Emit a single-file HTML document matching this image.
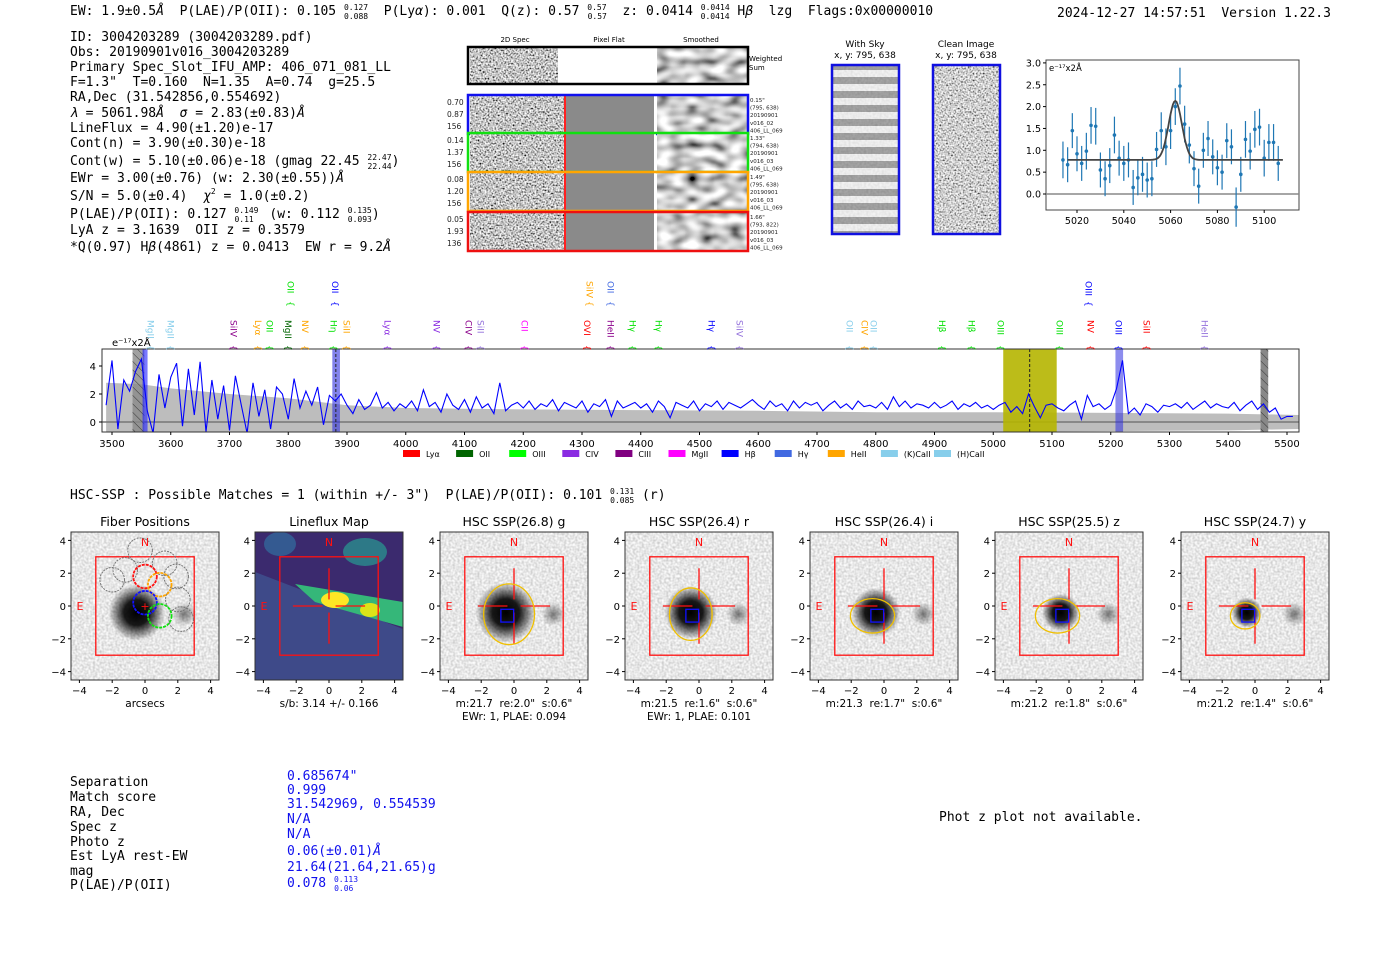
<!DOCTYPE html>
<html><head><meta charset="utf-8">
<style>
html,body{margin:0;padding:0;background:#fff;}
svg{display:block;}
text{white-space:pre;}
.m{font-family:"DejaVu Sans Mono","Liberation Mono",monospace;font-size:13px;fill:#000;}
.s{font-family:"DejaVu Sans","Liberation Sans",sans-serif;}
.sup{font-size:8px;}
</style></head>
<body>
<svg id="root" width="1400" height="953" viewBox="0 0 1400 953" xmlns="http://www.w3.org/2000/svg" xml:space="preserve">
<defs>
  <filter id="nLight" x="0" y="0" width="1" height="1">
    <feTurbulence type="fractalNoise" baseFrequency="0.45" numOctaves="1" seed="3"/>
    <feColorMatrix type="matrix" values="0.7 0 0 0 0.45  0.7 0 0 0 0.45  0.7 0 0 0 0.45  0 0 0 0 1"/>
  </filter>
  <filter id="nDark" x="0" y="0" width="1" height="1">
    <feTurbulence type="fractalNoise" baseFrequency="0.6" numOctaves="1" seed="7"/>
    <feColorMatrix type="matrix" values="2.2 0 0 0 -0.55  2.2 0 0 0 -0.55  2.2 0 0 0 -0.55  0 0 0 0 1"/>
  </filter>
  <filter id="nSmooth" x="0" y="0" width="1" height="1">
    <feTurbulence type="fractalNoise" baseFrequency="0.07 0.12" numOctaves="1" seed="11"/>
    <feColorMatrix type="matrix" values="2 0 0 0 -0.4  2 0 0 0 -0.4  2 0 0 0 -0.4  0 0 0 0 1"/>
  </filter>
  <radialGradient id="blob"><stop offset="0" stop-color="#000" stop-opacity="1"/><stop offset="0.45" stop-color="#000" stop-opacity="0.9"/><stop offset="1" stop-color="#000" stop-opacity="0"/></radialGradient>
  <radialGradient id="blob2"><stop offset="0" stop-color="#000" stop-opacity="0.5"/><stop offset="1" stop-color="#000" stop-opacity="0"/></radialGradient>
  <pattern id="hatch" width="6" height="6" patternUnits="userSpaceOnUse" patternTransform="rotate(-45)"><line x1="0" y1="0" x2="0" y2="6" stroke="#333" stroke-width="1"/></pattern>
  <pattern id="sky" width="68" height="14" patternUnits="userSpaceOnUse"><rect width="68" height="7" fill="#eee"/><rect y="7" width="68" height="7" fill="#777"/></pattern>
  <clipPath id="specClip"><rect x="102" y="349" width="1197" height="83"/></clipPath>
</defs>

<text class="m" x="70" y="15">EW: 1.9±0.5<tspan font-style="italic">Å</tspan>  P(LAE)/P(OII): 0.105 <tspan class="sup" dy="-5">0.127</tspan><tspan class="sup" dx="-24" dy="9">0.088</tspan><tspan dy="-4">  P(Ly</tspan><tspan font-style="italic">α</tspan>): 0.001  Q(z): 0.57 <tspan class="sup" dy="-5">0.57</tspan><tspan class="sup" dx="-19" dy="9">0.57</tspan><tspan dy="-4">  z: 0.0414 </tspan><tspan class="sup" dy="-5">0.0414</tspan><tspan class="sup" dx="-29" dy="9">0.0414</tspan><tspan dy="-4"> H</tspan><tspan font-style="italic">β</tspan>  lzg  Flags:0x00000010</text>
<text class="m" x="1057" y="17">2024-12-27 14:57:51  Version 1.22.3</text>

<g>
<text class="m" x="70" y="41">ID: 3004203289 (3004203289.pdf)</text>
<text class="m" x="70" y="56">Obs: 20190901v016_3004203289</text>
<text class="m" x="70" y="71">Primary Spec_Slot_IFU_AMP: 406_071_081_LL</text>
<text class="m" x="70" y="86">F=1.3"  T=0.160  N=1.35  A=0.74  g=25.5</text>
<text class="m" x="70" y="101">RA,Dec (31.542856,0.554692)</text>
<text class="m" x="70" y="117"><tspan font-style="italic">λ</tspan> = 5061.98<tspan font-style="italic">Å</tspan>  <tspan font-style="italic">σ</tspan> = 2.83(±0.83)<tspan font-style="italic">Å</tspan></text>
<text class="m" x="70" y="132">LineFlux = 4.90(±1.20)e-17</text>
<text class="m" x="70" y="147">Cont(n) = 3.90(±0.30)e-18</text>
<text class="m" x="70" y="165">Cont(w) = 5.10(±0.06)e-18 (gmag 22.45 <tspan class="sup" dy="-5">22.47</tspan><tspan class="sup" dx="-24" dy="9">22.44</tspan><tspan dy="-4">)</tspan></text>
<text class="m" x="70" y="182">EWr = 3.00(±0.76) (w: 2.30(±0.55))<tspan font-style="italic">Å</tspan></text>
<text class="m" x="70" y="200">S/N = 5.0(±0.4)  <tspan font-style="italic">χ</tspan><tspan class="sup" dy="-6">2</tspan><tspan dy="6"> = 1.0(±0.2)</tspan></text>
<text class="m" x="70" y="218">P(LAE)/P(OII): 0.127 <tspan class="sup" dy="-5">0.149</tspan><tspan class="sup" dx="-24" dy="9">0.11</tspan><tspan dy="-4">  (w: 0.112 </tspan><tspan class="sup" dy="-5">0.135</tspan><tspan class="sup" dx="-24" dy="9">0.093</tspan><tspan dy="-4">)</tspan></text>
<text class="m" x="70" y="234">LyA z = 3.1639  OII z = 0.3579</text>
<text class="m" x="70" y="251">*Q(0.97) H<tspan font-style="italic">β</tspan>(4861) z = 0.0413  EW r = 9.2<tspan font-style="italic">Å</tspan></text>
</g>

<g class="s">
  <text x="515" y="42" font-size="7" text-anchor="middle">2D Spec</text>
  <text x="609" y="42" font-size="7" text-anchor="middle">Pixel Flat</text>
  <text x="701" y="42" font-size="7" text-anchor="middle">Smoothed</text>
  <rect x="470" y="48" width="88" height="36" filter="url(#nDark)"/>
  <rect x="558" y="48" width="99" height="36" fill="#fff"/>
  <rect x="657" y="48" width="90" height="36" filter="url(#nSmooth)"/>
  <rect x="468" y="47" width="280" height="37" fill="none" stroke="#000" stroke-width="2.5"/>
  <text x="749" y="61" font-size="7">Weighted</text><text x="749" y="70" font-size="7">Sum</text>
  <g id="rows2d"></g>
</g>

<g class="s">
  <text x="865" y="47" font-size="9" text-anchor="middle">With Sky</text>
  <text x="865" y="58" font-size="9" text-anchor="middle">x, y: 795, 638</text>
  <rect x="832" y="65" width="67" height="169" fill="url(#sky)"/>
  <rect x="832" y="65" width="67" height="169" filter="url(#nLight)" opacity="0.35"/>
  <rect x="832" y="65" width="67" height="169" fill="none" stroke="#1010e0" stroke-width="2.5"/>
  <text x="966" y="47" font-size="9" text-anchor="middle">Clean Image</text>
  <text x="966" y="58" font-size="9" text-anchor="middle">x, y: 795, 638</text>
  <rect x="933" y="65" width="67" height="169" filter="url(#nDark)" opacity="0.8"/>
  <rect x="933" y="65" width="67" height="169" fill="none" stroke="#1010e0" stroke-width="2.5"/>
</g>

<g id="fitplot" class="s"></g>
<g id="spectrum" class="s"></g>

<text class="m" x="70" y="499">HSC-SSP : Possible Matches = 1 (within +/- 3")  P(LAE)/P(OII): 0.101 <tspan class="sup" dy="-5">0.131</tspan><tspan class="sup" dx="-24" dy="9">0.085</tspan><tspan dy="-4"> (r)</tspan></text>

<g id="cutouts" class="s"></g>

<g>
<text class="m" x="70" y="786">Separation</text>
<text class="m" x="70" y="801">Match score</text>
<text class="m" x="70" y="816">RA, Dec</text>
<text class="m" x="70" y="831">Spec z</text>
<text class="m" x="70" y="846">Photo z</text>
<text class="m" x="70" y="860">Est LyA rest-EW</text>
<text class="m" x="70" y="875">mag</text>
<text class="m" x="70" y="889">P(LAE)/P(OII)</text>
<text class="m" x="287" y="780" style="fill:#1010ee">0.685674"</text>
<text class="m" x="287" y="794" style="fill:#1010ee">0.999</text>
<text class="m" x="287" y="808" style="fill:#1010ee">31.542969, 0.554539</text>
<text class="m" x="287" y="823" style="fill:#1010ee">N/A</text>
<text class="m" x="287" y="838" style="fill:#1010ee">N/A</text>
<text class="m" x="287" y="855" style="fill:#1010ee">0.06(±0.01)<tspan font-style="italic">Å</tspan></text>
<text class="m" x="287" y="871" style="fill:#1010ee">21.64(21.64,21.65)g</text>
<text class="m" x="287" y="887" style="fill:#1010ee">0.078 <tspan class="sup" dy="-5">0.113</tspan><tspan class="sup" dx="-24" dy="9">0.06</tspan></text>
</g>
<text class="m" x="939" y="821">Phot z plot not available.</text>
</svg>

<script>
const specStart = 3490;
const specStep = 10;
const specFlux = [1.2,4.4,-0.5,3.0,2.2,3.6,4.5,0.8,-0.8,3.4,1.0,
3.2,4.2,-0.3,3.8,0.5,4.3,-0.7,3.0,0.2,2.6,
-0.6,3.3,1.2,-0.8,2.8,0.4,2.3,-0.5,2.5,2.0,
0.2,3.1,1.0,2.2,1.2,2.5,-0.2,1.9,1.5,2.0,
1.2,0.6,1.6,0.9,1.2,2.1,1.0,1.4,0.8,1.3,
1.0,1.5,0.8,2.3,1.1,1.4,0.7,2.0,1.2,0.9,
1.6,0.7,1.8,1.0,1.3,0.6,2.8,0.8,1.2,1.4,
1.0,1.5,0.9,1.3,1.1,1.6,0.8,1.4,1.2,1.0,
1.5,0.7,1.3,1.1,1.6,0.4,1.5,1.0,1.2,1.4,
1.0,1.3,0.7,1.5,1.1,0.3,1.4,1.2,1.0,1.5,
0.8,1.3,1.1,1.5,0.9,1.4,1.2,1.0,1.3,1.6,
1.2,0.9,1.5,1.1,1.3,0.8,1.5,1.0,1.4,1.2,
1.4,0.8,1.2,1.5,1.0,1.3,0.9,1.5,1.1,1.2,
1.0,1.4,0.9,1.8,1.1,1.5,1.0,1.3,1.2,1.0,
1.4,1.0,1.2,1.5,0.9,1.3,1.1,1.4,1.0,1.2,
0.9,1.2,1.4,0.7,1.1,0.6,2.0,1.1,0.3,1.2,
1.3,1.0,0.8,1.2,1.5,0.2,1.9,1.1,1.3,0.9,
1.2,2.4,4.4,0.6,1.0,0.5,1.3,1.1,0.7,1.2,
1.1,1.3,1.0,1.4,0.9,1.2,1.5,1.0,1.3,1.1,
1.0,1.4,0.8,1.2,1.5,0.9,1.3,0.7,1.0,0.2,
0.4,0.4];
const errWave = [3490,3550,3600,3700,3800,3900,4000,4200,4400,4600,4800,5000,5200,5400,5520];
const errVal  = [2.8,2.7,2.4,2.0,1.7,1.2,1.0,0.9,0.85,0.8,0.7,0.7,0.65,0.6,0.5];
const specXTicks = [3500,3600,3700,3800,3900,4000,4100,4200,4300,4400,4500,4600,4700,4800,4900,5000,5100,5200,5300,5400,5500];
const specYTicks = [0,2,4];
const lineNames  = ["MgII","MgII","SiIV","Lyα","OII","MgII","NV","Hη","SiII","Lyα","NV","CIV","SiII","CII","OVI","HeII","Hγ","Hγ","Hγ","SiIV","OII","CIV","OII","Hβ","Hβ","OIII","OIII","NV","OIII","SiII","HeII","OII","OII","SiIV","OII","OIII"];
const lineWaves  = [3566,3600,3708,3749,3769,3800,3829,3878,3900,3970,4053,4108,4128,4203,4309,4349,4387,4431,4521,4569,4756,4782,4797,4914,4964,5013,5114,5166,5214,5262,5360,3805,3880,4314,4349,5163];
const lineColors = ["#87ceeb","#87ceeb","#8b008b","#ffa500","#00e000","#006400","#ffa500","#00e000","#ffa500","#8a2be2","#8a2be2","#8b008b","#9370db","#ff00ff","#ff0000","#8b008b","#00e000","#00e000","#0000ff","#9370db","#87ceeb","#ffa500","#87ceeb","#00e000","#00e000","#00e000","#00e000","#ff0000","#0000ff","#ff0000","#9370db","#00e000","#0000ff","#ffa500","#4169e1","#0000ff"];
const lineRow    = [0,0,0,0,0,0,0,0,0,0,0,0,0,0,0,0,0,0,0,0,0,0,0,0,0,0,0,0,0,0,0,1,1,1,1,1];
const legendNames  = ["Lyα","OII","OIII","CIV","CIII","MgII","Hβ","Hγ","HeII","(K)CaII","(H)CaII"];
const legendColors = ["#ff0000","#006400","#00ff00","#8a2be2","#800080","#ff00ff","#0000ff","#4169e1","#ffa500","#87ceeb","#87ceeb"];

const fitStart = 5014;
const fitStep = 2;
const fitFlux = [0.78,0.67,1.45,0.92,0.7,0.98,1.57,1.55,0.55,0.35,0.65,1.35,0.82,0.7,0.78,0.15,0.37,0.45,0.32,0.35,1.02,1.45,1.08,1.45,2.0,2.47,1.6,1.12,0.58,0.18,1.0,1.27,0.85,0.6,0.5,1.22,1.08,-0.3,0.45,1.25,0.98,1.48,1.53,0.82,1.18,1.18,0.7];
const fitErr  = [0.42,0.4,0.4,0.4,0.4,0.42,0.42,0.42,0.4,0.4,0.4,0.42,0.4,0.4,0.4,0.4,0.4,0.4,0.4,0.4,0.4,0.42,0.42,0.42,0.42,0.42,0.42,0.42,0.4,0.4,0.4,0.4,0.4,0.4,0.4,0.4,0.4,0.45,0.4,0.42,0.42,0.42,0.42,0.42,0.42,0.42,0.4];
const fitModel = [0.78,1.35,5062,2.83];
const fitXTicks = [5020,5040,5060,5080,5100];
const fitYTicks = [0.0,0.5,1.0,1.5,2.0,2.5,3.0];

const NS="http://www.w3.org/2000/svg";
function mk(tag, attrs, parent, txt){const e=document.createElementNS(NS,tag);for(const k in attrs)e.setAttribute(k,attrs[k]);if(txt!==undefined)e.textContent=txt;parent.appendChild(e);return e;}

(function(){
  const g=document.getElementById('rows2d');
  const rows=[{c:"#1010ee",y:96,l:["0.70","0.87","156"],r:["0.15\"","(795, 638)","20190901","v016_02","406_LL_069"]},
              {c:"#10e010",y:134,l:["0.14","1.37","156"],r:["1.33\"","(794, 638)","20190901","v016_03","406_LL_069"]},
              {c:"#ffa500",y:173,l:["0.08","1.20","156"],r:["1.49\"","(795, 638)","20190901","v016_03","406_LL_069"]},
              {c:"#ee1010",y:213,l:["0.05","1.93","136"],r:["1.66\"","(793, 822)","20190901","v016_03","406_LL_069"]}];
  rows.forEach((r,i)=>{
    const h=38;
    const a=mk('rect',{x:470,y:r.y,width:95,height:h,filter:'url(#nDark)'},g);
    
    
    mk('rect',{x:565,y:r.y,width:90,height:h,fill:'#8a8a8a'},g);
    mk('line',{x1:565,y1:r.y,x2:565,y2:r.y+h,stroke:'#ff2020','stroke-width':2},g);
    mk('line',{x1:655,y1:r.y,x2:655,y2:r.y+h,stroke:'#fff','stroke-width':2},g);
    mk('rect',{x:657,y:r.y,width:90,height:h,filter:'url(#nSmooth)'},g);
    const box=mk('rect',{x:468,y:r.y-1,width:280,height:h+1,fill:'none',stroke:r.c,'stroke-width':2.5},g);
    
    
    r.l.forEach((t,j)=>mk('text',{x:447,y:r.y+9+j*12,'font-size':7.5,fill:'#222'},g,t));
    r.r.forEach((t,j)=>mk('text',{x:750,y:r.y+6+j*7.6,'font-size':5.5,fill:'#222'},g,t));
  });
})();

(function(){
  const g=document.getElementById('fitplot');
  const L=1046,R=1299,T=60,B=210;
  const X=w=>1077+(w-5020)*2.34, Y=v=>194-v*43.7;
  mk('rect',{x:L,y:T,width:R-L,height:B-T,fill:'#fff',stroke:'#444','stroke-width':1},g);
  mk('line',{x1:L,y1:Y(0),x2:R,y2:Y(0),stroke:'#888','stroke-width':1.5},g);
  fitXTicks.forEach(t=>{mk('line',{x1:X(t),y1:B,x2:X(t),y2:B+3,stroke:'#000'},g);mk('text',{x:X(t),y:B+14,'font-size':9.5,'text-anchor':'middle'},g,t);});
  fitYTicks.forEach(t=>{mk('line',{x1:L-3,y1:Y(t),x2:L,y2:Y(t),stroke:'#000'},g);mk('text',{x:L-5,y:Y(t)+3.5,'font-size':9.5,'text-anchor':'end'},g,t.toFixed(1));});
  mk('text',{x:L+3,y:T+11,'font-size':8.5},g,'e⁻¹⁷x2Å');
  fitFlux.forEach((v,i)=>{
    const w=fitStart+i*fitStep;
    const e=mk('line',{x1:X(w),y1:Y(v-fitErr[i]),x2:X(w),y2:Y(v+fitErr[i]),stroke:'#1f77b4','stroke-width':1.2},g);
    
    
    const p=mk('circle',{cx:X(w),cy:Y(v),r:1.8,fill:'#1f77b4'},g);
    
    
  });
  let d='';
  for(let w=5016;w<=5108;w+=0.5){const v=fitModel[0]+fitModel[1]*Math.exp(-0.5*Math.pow((w-fitModel[2])/fitModel[3],2));d+=(d?'L':'M')+X(w).toFixed(1)+','+Y(v).toFixed(1);}
  const m=mk('path',{d:d,fill:'none',stroke:'#444','stroke-width':1.8},g);
  
  
})();

(function(){
  const g=document.getElementById('spectrum');
  const L=102,R=1299,T=349,B=432;
  const X=w=>112+(w-3500)*0.5875, Y=v=>422-v*14;
  mk('rect',{x:L,y:T,width:R-L,height:B-T,fill:'#fff'},g);
  const c=mk('g',{'clip-path':'url(#specClip)'},g);
  let up='',dn='';
  errWave.forEach((w,i)=>{up+=(i?'L':'M')+X(w)+','+Y(errVal[i]);});
  for(let i=errWave.length-1;i>=0;i--){dn+='L'+X(errWave[i])+','+Y(-errVal[i]);}
  const eb=mk('path',{d:up+dn+'Z',fill:'#bdbdbd'},c);
  
  
  mk('line',{x1:L,y1:Y(0),x2:R,y2:Y(0),stroke:'#777','stroke-width':1.5},c);
  mk('rect',{x:X(3535),y:T,width:X(3555)-X(3535),height:B-T,fill:'#888',opacity:0.8},c);
  mk('rect',{x:X(3535),y:T,width:X(3555)-X(3535),height:B-T,fill:'url(#hatch)'},c);
  mk('rect',{x:X(3552),y:T,width:5,height:B-T,fill:'#2020ff',opacity:0.6},c);
  mk('rect',{x:X(3875),y:T,width:X(3888)-X(3875),height:B-T,fill:'#3030e0',opacity:0.6},c);
  mk('line',{x1:X(3881),y1:T,x2:X(3881),y2:B,stroke:'#222','stroke-dasharray':'3,2'},c);
  const yb=mk('rect',{x:X(5017),y:T,width:X(5108)-X(5017),height:B-T,fill:'#b5b500',opacity:0.9},c);
  
  
  mk('line',{x1:X(5062),y1:T,x2:X(5062),y2:B,stroke:'#222','stroke-dasharray':'3,2'},c);
  mk('rect',{x:X(5208),y:T,width:X(5221)-X(5208),height:B-T,fill:'#3030e0',opacity:0.55},c);
  mk('rect',{x:X(5455),y:T,width:X(5468)-X(5455),height:B-T,fill:'#888'},c);
  mk('rect',{x:X(5455),y:T,width:X(5468)-X(5455),height:B-T,fill:'url(#hatch)'},c);
  let d='';
  specFlux.forEach((v,i)=>{d+=(i?'L':'M')+X(specStart+i*specStep).toFixed(1)+','+Y(v).toFixed(1);});
  const fl=mk('path',{d:d,fill:'none',stroke:'#0000ff','stroke-width':1.1},c);
  
  
  mk('rect',{x:L,y:T,width:R-L,height:B-T,fill:'none',stroke:'#333','stroke-width':1},g);
  specXTicks.forEach(t=>{mk('line',{x1:X(t),y1:B,x2:X(t),y2:B+3,stroke:'#000'},g);mk('text',{x:X(t),y:B+15,'font-size':10,'text-anchor':'middle'},g,t);});
  specYTicks.forEach(t=>{mk('line',{x1:L-3,y1:Y(t),x2:L,y2:Y(t),stroke:'#000'},g);mk('text',{x:L-6,y:Y(t)+4,'font-size':10,'text-anchor':'end'},g,t);});
  mk('text',{x:112,y:346,'font-size':10},g,'e⁻¹⁷x2Å');
  lineNames.forEach((n,i)=>{
    const x=X(lineWaves[i]);
    const yTop=lineRow[i]?281:320;
    const t=mk('text',{x:0,y:0,'font-size':9,fill:lineColors[i],transform:`translate(${x-3.5},${yTop}) rotate(90)`},g,n);
    
    
    mk('text',{x:0,y:0,'font-size':9,fill:lineColors[i],transform:`translate(${x-3.5},${yTop+(lineRow[i]?20:25)}) rotate(90)`},g,'{');
  });
  legendNames.forEach((n,i)=>{
    const x=403+i*53.1;
    const s=mk('rect',{x:x,y:450,width:17,height:7,fill:legendColors[i]},g);
    
    
    mk('text',{x:x+23,y:457,'font-size':8},g,n);
  });
})();

(function(){
  const g=document.getElementById('cutouts');
  const lefts=[71,255,440,625,810,995,1181];
  const titles=["Fiber Positions","Lineflux Map","HSC SSP(26.8) g","HSC SSP(26.4) r","HSC SSP(26.4) i","HSC SSP(25.5) z","HSC SSP(24.7) y"];
  const sub1=["arcsecs","s/b: 3.14 +/- 0.166","m:21.7  re:2.0\"  s:0.6\"","m:21.5  re:1.6\"  s:0.6\"","m:21.3  re:1.7\"  s:0.6\"","m:21.2  re:1.8\"  s:0.6\"","m:21.2  re:1.4\"  s:0.6\""];
  const sub2=["","","EWr: 1, PLAE: 0.094","EWr: 1, PLAE: 0.101","","",""];
  const ell=[null,null,[-0.3,-0.5,1.55,1.85],[-0.5,-0.5,1.3,1.6],[-0.7,-0.6,1.35,1.05],[-0.7,-0.6,1.35,1.05],[-0.6,-0.6,0.9,0.8]];
  const blobR=[1.5,0,1.6,1.4,1.3,1.0,0.8];
  const W=148,T=532,H=148,U=16.4;
  lefts.forEach((l,k)=>{
    const cx=l+74, cy=T+74;
    const P=(u,v)=>[cx+u*U, cy-v*U];
    const pg=mk('g',{},g);
    
    
    mk('text',{x:cx,y:526,'font-size':12.5,'text-anchor':'middle'},pg,titles[k]);
    if(k===1){
      mk('rect',{x:l,y:T,width:W,height:H,fill:'#3e4a89'},pg);
      mk('polygon',{points:`${l},${T} ${l+W},${T} ${l+W},${T+97} ${l},${T+40}`,fill:'#3b2a6e'},pg);
      mk('ellipse',{cx:l+110,cy:T+20,rx:22,ry:14,fill:'#2a8d8d',opacity:0.8},pg);
      mk('ellipse',{cx:l+25,cy:T+12,rx:16,ry:12,fill:'#33669a',opacity:0.8},pg);
      mk('polygon',{points:`${l+40},${T+52} ${l+W},${T+70} ${l+W},${T+95} ${l+60},${T+70}`,fill:'#35b779'},pg);
      mk('ellipse',{cx:l+80,cy:T+68,rx:14,ry:8,fill:'#fde725'},pg);
      mk('ellipse',{cx:l+115,cy:T+78,rx:10,ry:7,fill:'#dde318'},pg);
    } else {
      mk('rect',{x:l,y:T,width:W,height:H,filter:'url(#nLight)'},pg);
      const [bx,by]=P(-0.5,-0.4);
      mk('circle',{cx:bx,cy:by,r:blobR[k]*U*1.15,fill:'url(#blob)'},pg);
      const [sx,sy]=P(2.4,-0.5);
      mk('circle',{cx:sx,cy:sy,r:12,fill:'url(#blob2)'},pg);
    }
    mk('rect',{x:l,y:T,width:W,height:H,fill:'none',stroke:'#333','stroke-width':1},pg);
    const [rx0,ry0]=P(-3,3);
    mk('rect',{x:rx0,y:ry0,width:6*U,height:6*U,fill:'none',stroke:'#ff1010','stroke-width':1.3},pg);
    mk('text',{x:cx,y:T+14,'font-size':11,fill:'#ff1010','text-anchor':'middle'},pg,'N');
    mk('text',{x:l+9,y:cy+4,'font-size':11,fill:'#ff1010','text-anchor':'middle'},pg,'E');
    if(k===0){
      const gray=[[-0.3,3.4],[1.2,2.6],[1.9,1.8],[2.0,0.4],[-1.2,2.2],[-2.0,1.6],[2.2,-0.8]];
      gray.forEach(p=>{const [x,y]=P(p[0],p[1]);mk('circle',{cx:x,cy:y,r:0.75*U,fill:'none',stroke:'#777','stroke-width':1,'stroke-dasharray':'2,1'},pg);});
      const col=[[0,1.8,'#ff1010'],[0.9,1.3,'#ffa500'],[0,0.2,'#1010ff'],[0.9,-0.6,'#10e010']];
      col.forEach(p=>{const [x,y]=P(p[0],p[1]);const c=mk('circle',{cx:x,cy:y,r:0.72*U,fill:'none',stroke:p[2],'stroke-width':1.8,'stroke-dasharray':'3,1'},pg);});
      mk('text',{x:cx,y:cy+4,'font-size':11,fill:'#ff1010','text-anchor':'middle'},pg,'+');
    } else {
      const seg=(a,b,c2,d2)=>{const [x1,y1]=P(a,b),[x2,y2]=P(c2,d2);mk('line',{x1,y1,x2,y2,stroke:'#ff1010','stroke-width':1.3},pg);};
      seg(-2.2,0,-0.4,0); seg(0.4,0,2.2,0); seg(0,2.3,0,0.4); seg(0,-0.4,0,-2.3);
      if(ell[k]){
        const e=ell[k];const [ex,ey]=P(e[0],e[1]);
        mk('ellipse',{cx:ex,cy:ey,rx:e[2]*U,ry:e[3]*U,fill:'none',stroke:'#f0c000','stroke-width':1.3},pg);
        const [qx,qy]=P(-0.8,-0.2);
        mk('rect',{x:qx,y:qy,width:0.6*U*1.3,height:0.6*U*1.3,fill:'none',stroke:'#1010ff','stroke-width':1.3},pg);
      }
    }
    [-4,-2,0,2,4].forEach(t=>{
      const [tx]=P(t,0), [,ty]=P(0,t);
      mk('line',{x1:tx,y1:T+H,x2:tx,y2:T+H+3,stroke:'#000'},pg);
      mk('text',{x:tx,y:T+H+14,'font-size':10,'text-anchor':'middle'},pg,t<0?'−'+(-t):t);
      mk('line',{x1:l-3,y1:ty,x2:l,y2:ty,stroke:'#000'},pg);
      mk('text',{x:l-5,y:ty+4,'font-size':10,'text-anchor':'end'},pg,t<0?'−'+(-t):t);
    });
    mk('text',{x:cx,y:707,'font-size':10.5,'text-anchor':'middle'},pg,sub1[k]);
    if(sub2[k]) mk('text',{x:cx,y:720,'font-size':10.5,'text-anchor':'middle'},pg,sub2[k]);
  });
})();
</script>
</body></html>
